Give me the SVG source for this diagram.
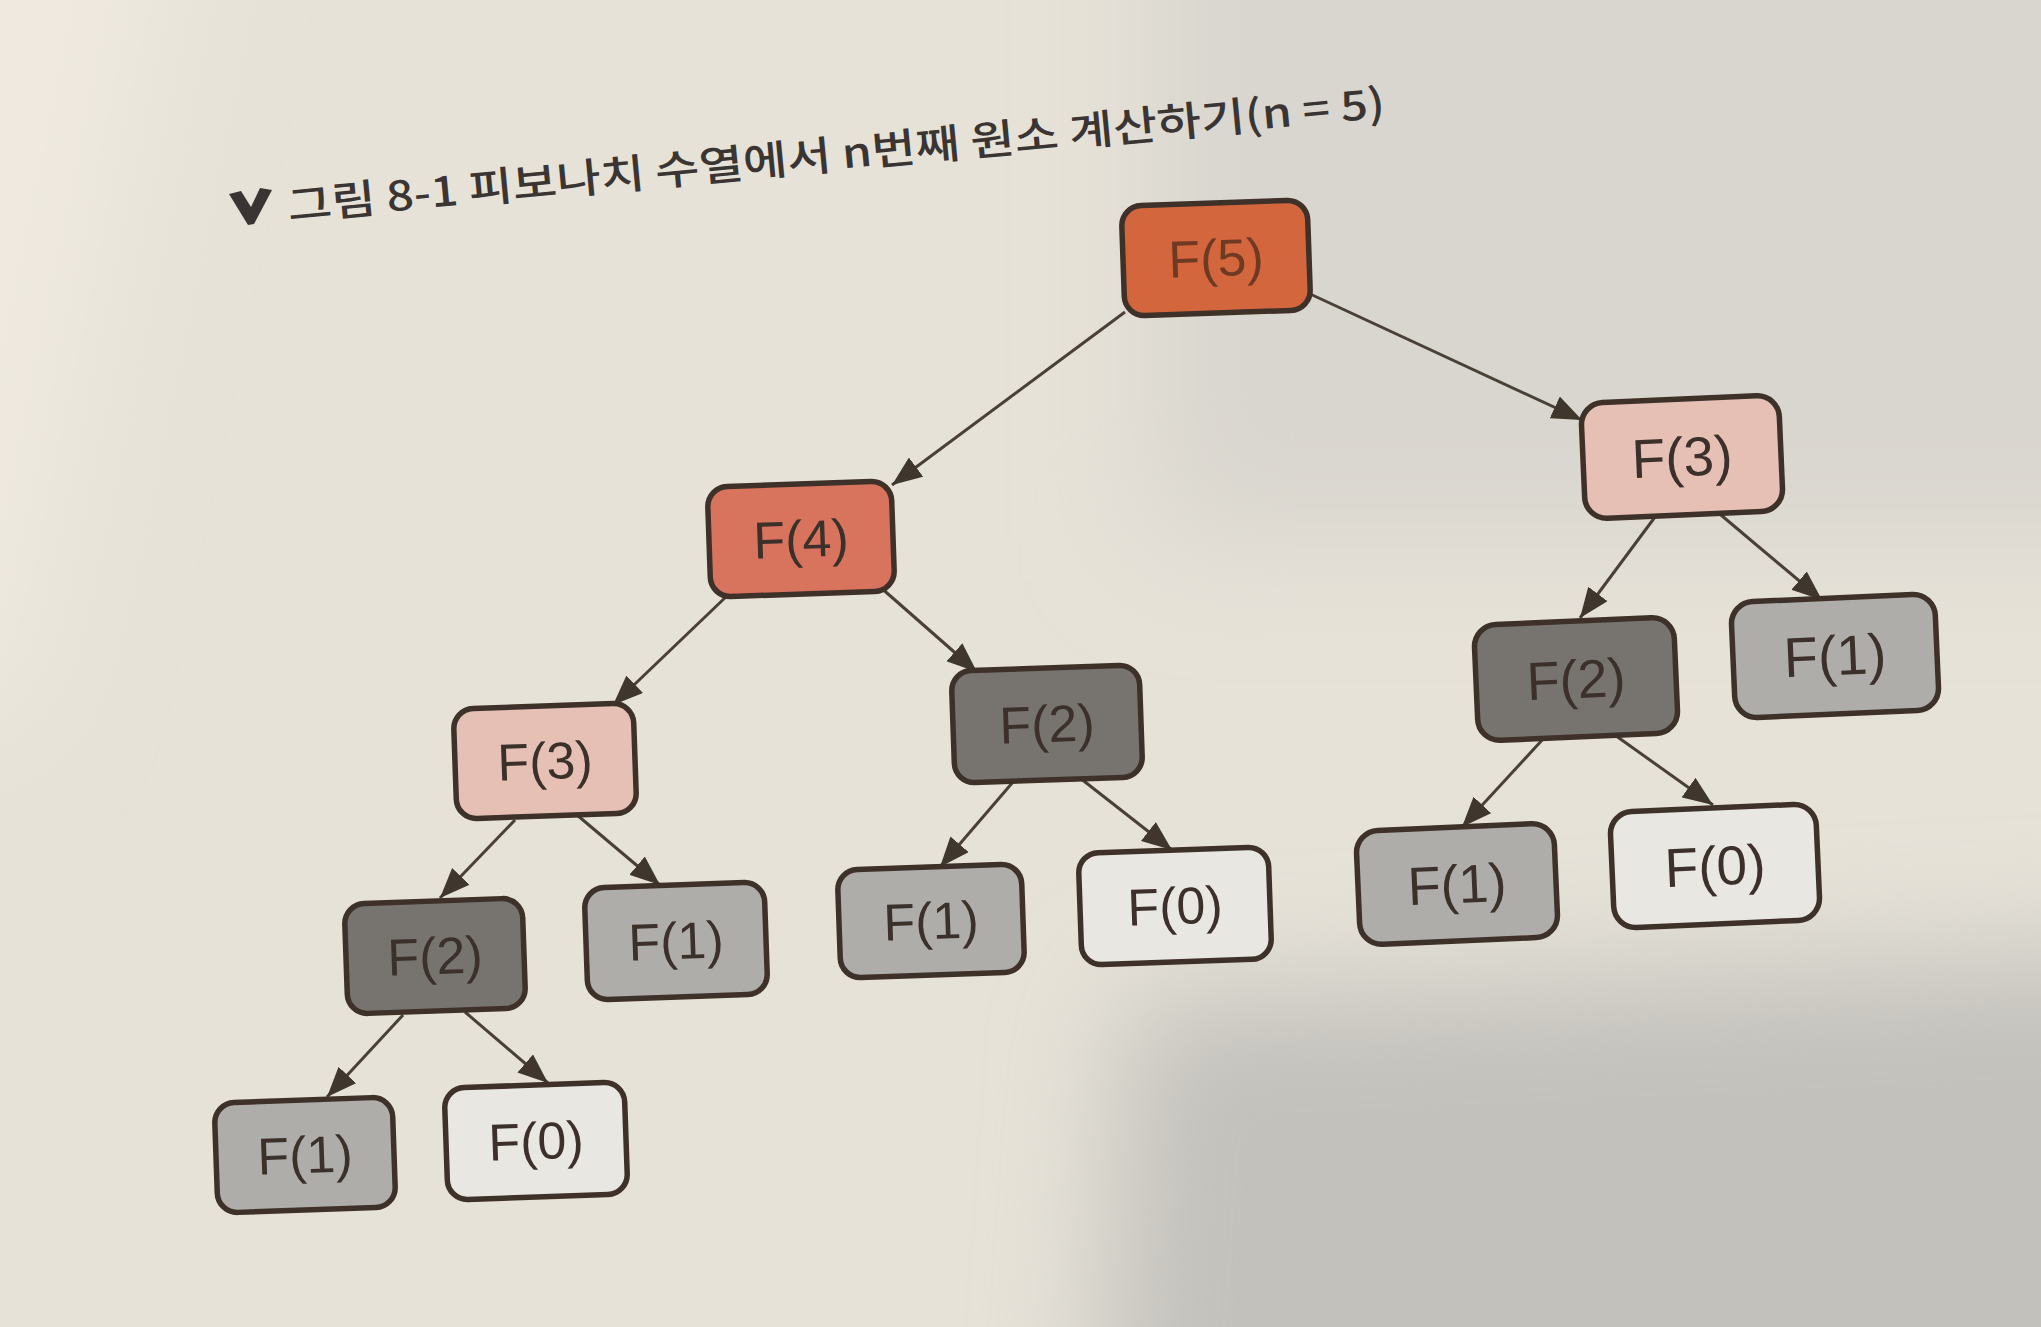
<svg xmlns="http://www.w3.org/2000/svg" width="2041" height="1327" viewBox="0 0 2041 1327">
  <defs>
    <style>
      .box { stroke: #3e3129; stroke-width: 5.5; }
      .lbl { font-family: "Liberation Sans", Arial, sans-serif; font-size: 52px; fill: #3b302a; text-anchor: middle; }
      .f5 { fill: #d4663d; }
      .f4 { fill: #d8735e; }
      .f3 { fill: #e7c0b5; }
      .f2 { fill: #777470; }
      .f1 { fill: #aeadaa; }
      .f0 { fill: #e9e7e2; }
      .edge { stroke: #4a4037; stroke-width: 3; fill: none; marker-end: url(#arrow); }
      .title { font-family: "Noto Sans CJK KR", "Noto Sans", sans-serif; font-size: 41px; font-weight: 500; fill: #3a3532; }
    </style>
    <marker id="arrow" markerUnits="userSpaceOnUse" markerWidth="30" markerHeight="24" refX="30" refY="12" orient="auto">
      <path d="M0,0 L30,12 L0,24 z" fill="#3f372d"/>
    </marker>
    <filter id="blur" filterUnits="userSpaceOnUse" x="-400" y="-400" width="2841" height="2127">
      <feGaussianBlur stdDeviation="60"/>
    </filter>
  </defs>

  <!-- page background -->
  <rect x="0" y="0" width="2041" height="1327" fill="#e6e2d8"/>
  <g filter="url(#blur)">
    <polygon points="-300,-300 230,-300 20,720 -300,720" fill="#efe9df"/>
    <rect x="1150" y="-300" width="1200" height="840" fill="#d9d6cf"/>
    <polygon points="1130,1000 2400,940 2400,1700 1080,1700" fill="#c3c1bc"/>
  </g>

  <!-- title -->
  <g id="title">
    <polygon points="229,194 241,191 251,207 260,188 272,190 254,224 248,225" fill="#3a3532"/>
    <text class="title" x="289" y="221" transform="rotate(-5.4 289 221)" textLength="1102" lengthAdjust="spacingAndGlyphs">그림 8-1 피보나치 수열에서 n번째 원소 계산하기(n = 5)</text>
  </g>

  <!-- connectors -->
  <g id="connectors">
    <line class="edge" x1="1125" y1="312" x2="892" y2="485"/>
    <line class="edge" x1="1308" y1="293" x2="1582" y2="420"/>
    <line class="edge" x1="729" y1="594" x2="613" y2="705"/>
    <line class="edge" x1="879" y1="586" x2="977" y2="672"/>
    <line class="edge" x1="515" y1="820" x2="440" y2="898"/>
    <line class="edge" x1="577" y1="815" x2="660" y2="885"/>
    <line class="edge" x1="403" y1="1015" x2="327" y2="1097"/>
    <line class="edge" x1="465" y1="1012" x2="548" y2="1083"/>
    <line class="edge" x1="1013" y1="782" x2="940" y2="867"/>
    <line class="edge" x1="1080" y1="778" x2="1172" y2="850"/>
    <line class="edge" x1="1655" y1="517" x2="1580" y2="618"/>
    <line class="edge" x1="1715" y1="510" x2="1822" y2="600"/>
    <line class="edge" x1="1544" y1="738" x2="1462" y2="827"/>
    <line class="edge" x1="1612" y1="733" x2="1713" y2="805"/>
  </g>

  <!-- nodes -->
  <g id="n-f5" transform="translate(1216 258) rotate(-2)">
    <rect class="box f5" x="-93" y="-55" width="186" height="110" rx="20"/>
    <text class="lbl" x="0" y="18" style="fill:#6e3a22">F(5)</text>
  </g>
  <g id="n-f4" transform="translate(801 539) rotate(-2)">
    <rect class="box f4" x="-92" y="-55" width="184" height="110" rx="20"/>
    <text class="lbl" x="0" y="18">F(4)</text>
  </g>
  <g id="n-f3r" transform="translate(1682 457) rotate(-2.5)">
    <rect class="box f3" x="-99" y="-58" width="198" height="116" rx="22"/>
    <text class="lbl" x="0" y="19" style="font-size:55px">F(3)</text>
  </g>
  <g id="n-f3l" transform="translate(545 761) rotate(-2)">
    <rect class="box f3" x="-90" y="-55" width="180" height="110" rx="20"/>
    <text class="lbl" x="0" y="18">F(3)</text>
  </g>
  <g id="n-f2m" transform="translate(1047 724) rotate(-2)">
    <rect class="box f2" x="-94" y="-56" width="188" height="112" rx="20"/>
    <text class="lbl" x="0" y="18">F(2)</text>
  </g>
  <g id="n-f2r" transform="translate(1576 679) rotate(-2.5)">
    <rect class="box f2" x="-100" y="-58" width="200" height="116" rx="22"/>
    <text class="lbl" x="0" y="19" style="font-size:54px">F(2)</text>
  </g>
  <g id="n-f1r" transform="translate(1835 656) rotate(-2.5)">
    <rect class="box f1" x="-102" y="-58" width="204" height="116" rx="22"/>
    <text class="lbl" x="0" y="19" style="font-size:56px">F(1)</text>
  </g>
  <g id="n-f2l" transform="translate(435 956) rotate(-2)">
    <rect class="box f2" x="-89" y="-55" width="178" height="110" rx="20"/>
    <text class="lbl" x="0" y="18">F(2)</text>
  </g>
  <g id="n-f1lm" transform="translate(676 941) rotate(-2)">
    <rect class="box f1" x="-90" y="-56" width="180" height="112" rx="20"/>
    <text class="lbl" x="0" y="18">F(1)</text>
  </g>
  <g id="n-f1m" transform="translate(931 921) rotate(-2)">
    <rect class="box f1" x="-92" y="-54" width="184" height="108" rx="20"/>
    <text class="lbl" x="0" y="18">F(1)</text>
  </g>
  <g id="n-f0m" transform="translate(1175 906) rotate(-2)">
    <rect class="box f0" x="-95" y="-56" width="190" height="112" rx="20"/>
    <text class="lbl" x="0" y="18">F(0)</text>
  </g>
  <g id="n-f1rb" transform="translate(1457 884) rotate(-2.5)">
    <rect class="box f1" x="-99" y="-57" width="198" height="114" rx="22"/>
    <text class="lbl" x="0" y="19" style="font-size:54px">F(1)</text>
  </g>
  <g id="n-f0rb" transform="translate(1715 866) rotate(-2.5)">
    <rect class="box f0" x="-103" y="-58" width="206" height="116" rx="22"/>
    <text class="lbl" x="0" y="19" style="font-size:55px">F(0)</text>
  </g>
  <g id="n-f1b" transform="translate(305 1155) rotate(-2)">
    <rect class="box f1" x="-89" y="-55" width="178" height="110" rx="20"/>
    <text class="lbl" x="0" y="18">F(1)</text>
  </g>
  <g id="n-f0b" transform="translate(536 1141) rotate(-2)">
    <rect class="box f0" x="-90" y="-56" width="180" height="112" rx="20"/>
    <text class="lbl" x="0" y="18">F(0)</text>
  </g>
</svg>
